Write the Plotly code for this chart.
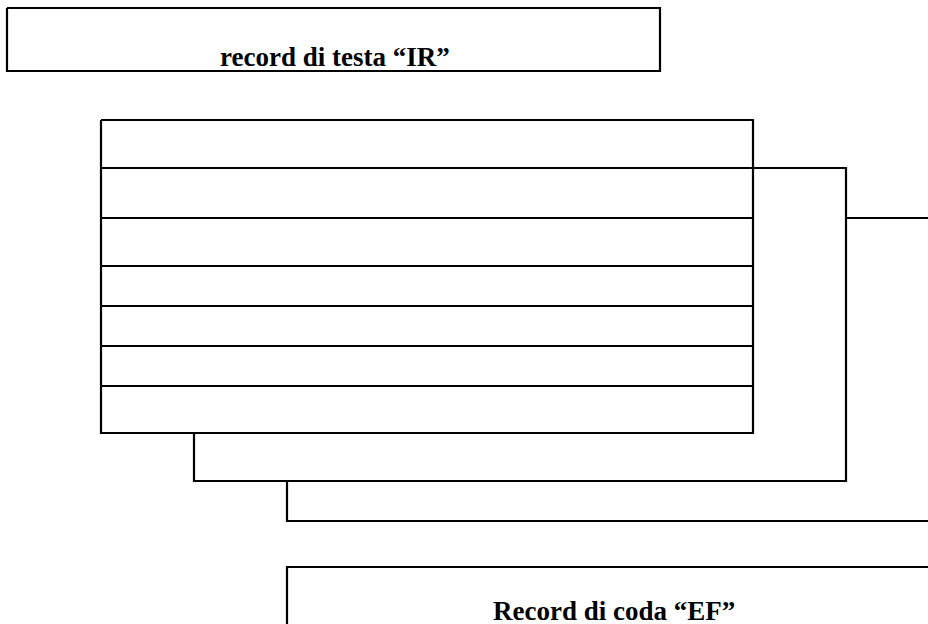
import plotly.graph_objects as go

# Diagram geometry (pixel-like units, y grows downward)
header_box = [7, 8, 660, 71]           # x0, y0, x1, y1
main_left, main_right = 101, 753
main_top, main_bottom = 120, 433
row_lines = [168, 218, 266, 306, 346, 386]
second_right = 846
second_bottom = 481
second_left = 194
third_left = 287
third_bottom = 521
third_top_right_y = 218
page_right = 930
footer_top = 567
page_bottom = 626

labels = ["record di testa \u201cIR\u201d", "Record di coda \u201cEF\u201d"]
label_x = [335, 614]
label_y = [57, 611]

xs, ys = [], []
def seg(pts):
    for p in pts:
        xs.append(p[0]); ys.append(p[1])
    xs.append(None); ys.append(None)

x0, y0, x1, y1 = header_box
seg([(x0, y0), (x1, y0), (x1, y1), (x0, y1), (x0, y0)])
seg([(main_left, main_top), (main_right, main_top), (main_right, main_bottom),
     (main_left, main_bottom), (main_left, main_top)])
for ry in row_lines:
    seg([(main_left, ry), (main_right, ry)])
seg([(main_right, row_lines[0]), (second_right, row_lines[0]), (second_right, second_bottom),
     (second_left, second_bottom), (second_left, main_bottom)])
seg([(second_right, third_top_right_y), (page_right, third_top_right_y)])
seg([(third_left, second_bottom), (third_left, third_bottom), (page_right, third_bottom)])
seg([(third_left, page_bottom), (third_left, footer_top), (page_right, footer_top)])

fig = go.Figure()
fig.add_trace(go.Scatter(x=xs, y=ys, mode="lines",
                         line=dict(color="black", width=2.2),
                         hoverinfo="skip", showlegend=False, cliponaxis=True))
for t, lx, ly in zip(labels, label_x, label_y):
    fig.add_annotation(x=lx, y=ly, xref="x", yref="y", text="<b>" + t + "</b>",
                       showarrow=False, xanchor="center", yanchor="middle",
                       font=dict(family="Liberation Serif", size=27, color="black"))

fig.update_xaxes(range=[0, 928], visible=False, fixedrange=True)
fig.update_yaxes(range=[624, 0], visible=False, fixedrange=True)
fig.update_layout(width=928, height=624, margin=dict(l=0, r=0, t=0, b=0),
                  plot_bgcolor="white", paper_bgcolor="white")
fig.write_html("out.html", config={"displayModeBar": False},
               post_script="document.body.style.margin='0';document.body.style.overflow='hidden';")
